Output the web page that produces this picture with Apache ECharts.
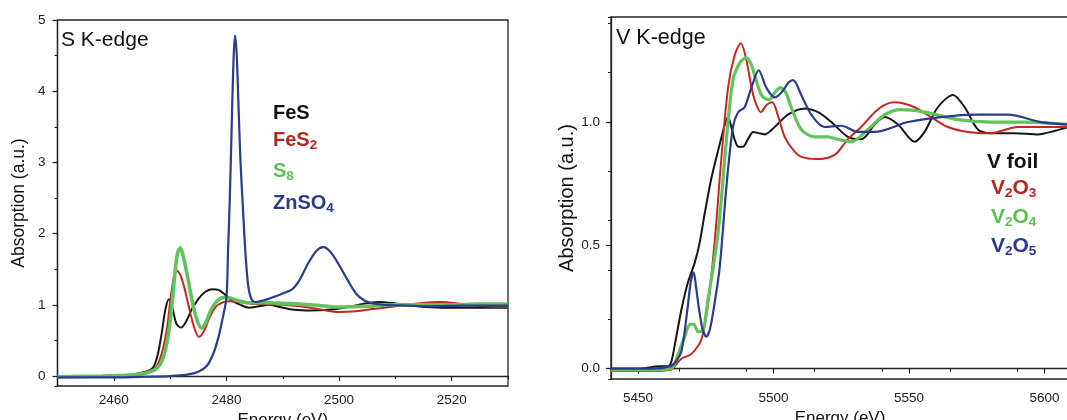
<!DOCTYPE html>
<html>
<head>
<meta charset="utf-8">
<script src="https://cdn.jsdelivr.net/npm/echarts@6/dist/echarts.min.js"></script>
<style>html,body{margin:0;padding:0;background:#fff}#c{width:1067px;height:420px}</style>
</head>
<body>
<div id="c"></div>
<script>
// ---- S K-edge data: [energy (eV), absorption] ----
const FeS = [[2450,-0.01],[2458,0.0],[2462,0.01],[2464,0.03],[2466,0.07],[2467,0.12],[2467.8,0.3],[2468.5,0.6],[2469.2,0.95],[2469.8,1.08],[2470.4,0.96],[2471.1,0.74],[2471.9,0.68],[2472.8,0.76],[2473.8,0.93],[2475,1.08],[2476.2,1.18],[2477.4,1.22],[2478.6,1.21],[2479.8,1.14],[2481,1.06],[2482.5,1.0],[2484,0.96],[2485.8,0.98],[2487.5,1.0],[2489.5,0.97],[2492,0.93],[2495,0.92],[2498,0.93],[2501,0.96],[2504,1.01],[2507,1.04],[2510,1.02],[2514,0.98],[2518,0.96],[2524,0.96],[2530,0.96]];
const FeS2 = [[2450,-0.01],[2458,0.0],[2462,0.01],[2464,0.03],[2466,0.06],[2467.2,0.1],[2468,0.2],[2468.8,0.4],[2469.5,0.7],[2470.1,1.1],[2470.7,1.4],[2471.2,1.48],[2471.8,1.42],[2472.5,1.25],[2473.3,0.98],[2474.2,0.7],[2475.1,0.55],[2476,0.63],[2477,0.82],[2478,0.96],[2479.2,1.03],[2480.5,1.05],[2482,1.04],[2484,1.02],[2487,1.01],[2490,1.0],[2494,0.97],[2497,0.93],[2500,0.9],[2503,0.91],[2506,0.94],[2510,0.98],[2514,1.02],[2518,1.04],[2522,1.01],[2526,0.98],[2530,0.97]];
const S8 = [[2450,-0.01],[2458,0.0],[2462,0.01],[2464,0.02],[2466,0.05],[2467.5,0.1],[2468.6,0.22],[2469.5,0.5],[2470.2,0.9],[2470.8,1.4],[2471.3,1.72],[2471.8,1.8],[2472.4,1.66],[2473.2,1.35],[2474,1.02],[2474.8,0.78],[2475.6,0.67],[2476.4,0.76],[2477.2,0.92],[2478.2,1.04],[2479.3,1.1],[2480.5,1.1],[2482,1.06],[2484,1.03],[2487,1.03],[2490,1.02],[2495,1.0],[2500,0.97],[2505,0.98],[2510,1.0],[2515,1.0],[2520,1.0],[2525,1.01],[2530,1.01]];
const ZnSO4 = [[2450,-0.02],[2460,-0.02],[2466,-0.01],[2470,0.0],[2473,0.02],[2475,0.06],[2476.5,0.14],[2477.7,0.32],[2478.6,0.55],[2479.3,0.8],[2480.0,1.1],[2480.3,1.8],[2480.6,2.5],[2480.9,3.4],[2481.2,4.3],[2481.5,4.78],[2481.8,4.55],[2482.1,3.9],[2482.5,3.0],[2482.9,2.4],[2483.4,1.7],[2483.9,1.25],[2484.5,1.07],[2485.2,1.04],[2486.5,1.06],[2488,1.1],[2490,1.16],[2491.7,1.22],[2493,1.35],[2494.5,1.58],[2496,1.76],[2497.2,1.81],[2498.5,1.74],[2500,1.56],[2501.5,1.35],[2503,1.16],[2504.5,1.06],[2506,1.02],[2508,1.0],[2512,0.99],[2516,0.98],[2522,0.99],[2530,0.99]];

// ---- V K-edge data ----
const Vfoil = [[5440,0.0],[5450,0.0],[5458,0.01],[5461,0.01],[5462.3,0.03],[5464.1,0.13],[5466,0.24],[5468.4,0.35],[5470.9,0.43],[5472.7,0.51],[5474.6,0.63],[5477,0.77],[5480.1,0.91],[5482,0.99],[5483.2,1.02],[5484.4,0.98],[5485.6,0.93],[5487,0.9],[5488.7,0.9],[5490.5,0.93],[5492.5,0.96],[5494.5,0.955],[5496.7,0.95],[5500.4,0.98],[5505.3,1.03],[5511.5,1.055],[5516.4,1.04],[5521.3,1.0],[5527.4,0.94],[5532.3,0.93],[5537.3,0.99],[5541,1.02],[5545.9,0.99],[5552,0.92],[5555.7,0.96],[5560.6,1.06],[5566.2,1.11],[5570.5,1.06],[5575.4,0.97],[5580.3,0.955],[5588.9,0.955],[5597.5,0.95],[5604,0.965],[5609,0.98]];
const V2O3 = [[5440,-0.01],[5455,-0.01],[5462,-0.005],[5463.5,0.01],[5466,0.04],[5469.7,0.06],[5473.4,0.12],[5475.8,0.26],[5478.3,0.52],[5480.7,0.85],[5483.2,1.14],[5485.6,1.27],[5487.9,1.32],[5490,1.25],[5491.5,1.16],[5493,1.09],[5495.3,1.04],[5497.5,1.07],[5499.5,1.08],[5501.5,1.03],[5504.1,0.94],[5507,0.89],[5510,0.86],[5516.4,0.85],[5520,0.855],[5523,0.87],[5527.4,0.93],[5532.3,0.98],[5537.3,1.04],[5541,1.07],[5544.6,1.08],[5548,1.075],[5552,1.06],[5558.1,1.02],[5564.3,0.98],[5571.7,0.96],[5580.3,0.955],[5590,0.98],[5600,0.98],[5609,0.98]];
const V2O4 = [[5440,-0.005],[5455,-0.005],[5462,0.0],[5463.5,0.02],[5465.5,0.08],[5467.2,0.13],[5469.2,0.18],[5470.5,0.18],[5472.2,0.15],[5473.5,0.15],[5475.8,0.28],[5479.5,0.55],[5482.6,0.93],[5485,1.17],[5487.5,1.24],[5489.8,1.26],[5491.5,1.24],[5493,1.19],[5495.5,1.11],[5498.3,1.09],[5500.5,1.12],[5502.5,1.14],[5504.5,1.12],[5506.5,1.06],[5510.2,0.97],[5515.1,0.94],[5520,0.94],[5523.7,0.93],[5528.7,0.92],[5534.8,0.97],[5541,1.03],[5547.1,1.05],[5555.7,1.04],[5568,1.01],[5580.3,1.0],[5592.6,1.0],[5609,0.99]];
const V2O5 = [[5440,0.0],[5455,0.0],[5462,0.01],[5464,0.03],[5466,0.07],[5468.2,0.24],[5469.4,0.35],[5470.5,0.39],[5471.4,0.33],[5472.5,0.24],[5473.8,0.16],[5475.2,0.13],[5476.5,0.16],[5478,0.25],[5480.1,0.41],[5482.6,0.74],[5485,0.98],[5486.9,1.04],[5489.3,1.06],[5491.8,1.14],[5494.5,1.21],[5497.3,1.14],[5500.4,1.1],[5502.9,1.12],[5505.5,1.16],[5507.2,1.17],[5510.2,1.11],[5513.9,1.03],[5518.8,0.98],[5525,0.985],[5531.1,0.96],[5537.3,0.96],[5549.6,1.0],[5561.8,1.02],[5574.1,1.03],[5586.4,1.03],[5598.7,1.0],[5609,0.99]];

const colors = {black:'#161616', red:'#c3271f', green:'#62c35d', blue:'#2d3a8e'};
const leftTitle = 'S K-edge';
const rightTitle = 'V K-edge';
const xName = 'Energy (eV)';
const yName = 'Absorption (a.u.)';

const FONT = '"Liberation Sans", Arial, sans-serif';
const axisColor = '#222';

function xMain(grid, min, max, split, gap, margin) {
  return {
    type:'value', gridIndex:grid, min:min, max:max, splitNumber:split, position:'bottom',
    name:xName, nameLocation:'middle', nameGap:gap,
    nameTextStyle:{fontFamily:FONT, fontSize:17, color:'#111'},
    axisLine:{show:true, lineStyle:{color:axisColor, width:1.3}},
    axisTick:{show:true, length:5, lineStyle:{color:axisColor, width:1.2}},
    axisLabel:{fontFamily:FONT, fontSize:13.5, color:'#222', margin:margin, showMinLabel:false, showMaxLabel:false,
      formatter: function(v){ return String(v); }},
    splitLine:{show:false}
  };
}
function xMinor(grid, min, max, interval) {
  return {
    type:'value', gridIndex:grid, min:min, max:max, interval:interval, position:'bottom',
    axisLine:{show:false}, axisTick:{show:true, length:3, lineStyle:{color:axisColor, width:1.1}},
    axisLabel:{show:false}, splitLine:{show:false}
  };
}
function yMain(grid, min, max, split, gap, margin, nameSize, showMax) {
  return {
    type:'value', gridIndex:grid, min:min, max:max, splitNumber:split, position:'left',
    name:yName, nameLocation:'middle', nameGap:gap, nameRotate:90,
    nameTextStyle:{fontFamily:FONT, fontSize:nameSize, color:'#111'},
    axisLine:{show:true, lineStyle:{color:axisColor, width:1.3}},
    axisTick:{show:true, length:5, lineStyle:{color:axisColor, width:1.2}},
    axisLabel:{fontFamily:FONT, fontSize:13.5, color:'#222', margin:margin, showMinLabel:false, showMaxLabel:showMax,
      formatter: function(v){ return grid === 1 ? v.toFixed(1) : String(v); }},
    splitLine:{show:false}
  };
}
function yMinor(grid, min, max, split) {
  return {
    type:'value', gridIndex:grid, min:min, max:max, splitNumber:split, position:'left',
    axisLine:{show:false}, axisTick:{show:true, length:3, lineStyle:{color:axisColor, width:1.1}},
    axisLabel:{show:false}, splitLine:{show:false}
  };
}
function line(name, data, color, width, xi, yi) {
  return {type:'line', name:name, data:data, xAxisIndex:xi, yAxisIndex:yi, showSymbol:false, symbol:'none',
    smooth:0.3, lineStyle:{color:color, width:width}, itemStyle:{color:color}, z:2, animation:false};
}
function legendText(left, top, main, sub, color, size) {
  const text = sub ? main.map((m,i)=>'{m|'+m+'}' + (sub[i] ? '{s|'+sub[i]+'}' : '')).join('') : '{m|'+main[0]+'}';
  return {type:'text', left:left, top:top, z:10, style:{text:text, rich:{
    m:{fontFamily:FONT, fontSize:size, fontWeight:'bold', fill:color, lineHeight:24, verticalAlign:'middle'},
    s:{fontFamily:FONT, fontSize:13.5, fontWeight:'bold', fill:color, lineHeight:12, verticalAlign:'bottom'}
  }}};
}

const chart = echarts.init(document.getElementById('c'), null, {renderer:'canvas'});
chart.setOption({
  backgroundColor:'#fff',
  animation:false,
  grid:[
    {left:57.5, right:559, top:20, bottom:34, outerBoundsMode:'none', containLabel:false, show:true, borderColor:axisColor, borderWidth:1.3, backgroundColor:'transparent'},
    {left:611, right:-2, top:17, bottom:41, outerBoundsMode:'none', containLabel:false, show:true, borderColor:axisColor, borderWidth:1.3, backgroundColor:'transparent'}
  ],
  xAxis:[
    xMain(0, 2450, 2530, 5, 18, 7),
    xMinor(0, 2450, 2530, 10),
    xMain(1, 5440, 5609, 3, 19, 12),
    xMinor(1, 5440, 5609, 25)
  ],
  yAxis:[
    yMain(0, -0.14, 5, 5, 29, 12, 17.5, true),
    yMinor(0, -0.14, 5, 10),
    yMain(1, -0.042, 1.426, 3, 33, 11, 20, false),
    yMinor(1, -0.042, 1.426, 6)
  ],
  series:[
    line('FeS', FeS, colors.black, 2, 0, 0),
    line('FeS2', FeS2, colors.red, 2, 0, 0),
    line('S8', S8, colors.green, 3.6, 0, 0),
    line('ZnSO4', ZnSO4, colors.blue, 2.2, 0, 0),
    line('V foil', Vfoil, colors.black, 2, 2, 2),
    line('V2O3', V2O3, colors.red, 2, 2, 2),
    line('V2O4', V2O4, colors.green, 3.2, 2, 2),
    line('V2O5', V2O5, colors.blue, 2.2, 2, 2)
  ],
  graphic:[
    {type:'text', left:61, top:29.5, z:10, style:{text:leftTitle, fontFamily:FONT, fontSize:21, fill:'#111'}},
    {type:'text', left:616, top:27, z:10, style:{text:rightTitle, fontFamily:FONT, fontSize:21.5, fill:'#111'}},
    legendText(273, 103, ['FeS'], null, '#111', 20),
    legendText(273, 130, ['FeS'], ['2'], '#b8231d', 20),
    legendText(273, 161, ['S'], ['8'], '#5cbf55', 20),
    legendText(273, 193, ['ZnSO'], ['4'], '#2b3a8c', 20),
    legendText(987, 152, ['V foil'], null, '#111', 21),
    legendText(991, 178, ['V','O'], ['2','3'], '#b8231d', 21),
    legendText(991, 207, ['V','O'], ['2','4'], '#5cbf55', 21),
    legendText(991, 236, ['V','O'], ['2','5'], '#2b3a8c', 21)
  ]
});
</script>
</body>
</html>
